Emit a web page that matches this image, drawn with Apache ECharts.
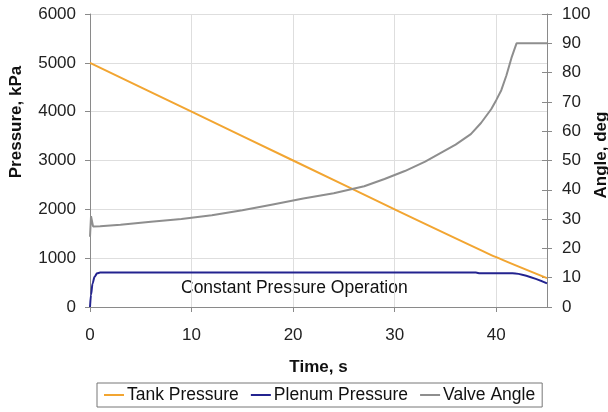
<!DOCTYPE html>
<html>
<head>
<meta charset="utf-8">
<script src="https://cdn.jsdelivr.net/npm/echarts@6/dist/echarts.min.js"></script>
<style>
  html, body { margin: 0; padding: 0; background: #fff; }
  #chart { width: 608px; height: 412px; }
</style>
</head>
<body>
<div id="chart"></div>
<script>
// Tank, plenum and valve histories over a constant-pressure run
const tankTime = [0, 10, 20, 30, 40, 45];
const tankKPa = [5000, 4000, 3000, 2000, 1020, 590];

const plenumTime = [0, 0.1, 0.25, 0.45, 0.7, 1, 38, 38.4, 41.6, 45];
const plenumKPa = [0, 250, 480, 620, 690, 705, 705, 690, 690, 485];

const valveTime = [0, 0.1, 0.3, 1, 3, 6, 9, 12, 15, 18, 21, 24, 27, 29, 31, 33, 34.5, 36, 37.5, 38.5, 39.5, 40, 40.5, 41, 41.5, 41.8, 42, 45];
const valveDeg = [24, 31, 27.5, 27.6, 28.1, 29.1, 30.0, 31.3, 33.0, 35.0, 37.0, 38.8, 41.2, 43.7, 46.4, 49.6, 52.5, 55.4, 59.0, 62.8, 67.5, 70.6, 74.0, 79.0, 85.0, 88.0, 90, 90];

const timeTicks = [0, 10, 20, 30, 40];
const seriesNames = ['Tank Pressure', 'Plenum Pressure', 'Valve Angle'];

const zip = (xs, ys) => xs.map((x, i) => [x, ys[i]]);

const font = 'Liberation Sans, Arial, sans-serif';
const axisColor = '#8a8a8a';
const gridColor = '#dedede';
const plain = v => String(v);

const chart = echarts.init(document.getElementById('chart'));
chart.setOption({
  animation: false,
  textStyle: { fontFamily: font },
  grid: { left: 90, right: 61, top: 14, bottom: 105 },
  legend: {
    data: seriesNames,
    left: 97,
    top: 383,
    padding: [3, 7],
    itemGap: 12,
    itemWidth: 20,
    itemHeight: 2,
    icon: 'rect',
    borderColor: '#777',
    borderWidth: 1,
    textStyle: { fontSize: 17.5, color: '#111', fontFamily: font, padding: [0, 0, 0, -2] }
  },
  xAxis: {
    type: 'value',
    min: 0,
    max: 45,
    interval: 10,
    name: 'Time, s',
    nameLocation: 'middle',
    nameGap: 52,
    nameTextStyle: { fontSize: 17, fontWeight: 'bold', color: '#111', fontFamily: font },
    axisLine: { lineStyle: { color: axisColor } },
    axisTick: { length: 5, lineStyle: { color: axisColor } },
    axisLabel: {
      fontSize: 17, color: '#222', margin: 20, showMaxLabel: false,
      formatter: v => (timeTicks.includes(v) ? String(v) : '')
    },
    splitLine: { lineStyle: { color: gridColor } }
  },
  yAxis: [
    {
      type: 'value',
      min: 0,
      max: 6000,
      interval: 1000,
      position: 'left',
      axisLine: { show: true, lineStyle: { color: axisColor } },
      axisTick: { show: true, length: 5, lineStyle: { color: axisColor } },
      axisLabel: { fontSize: 17, color: '#222', margin: 14, formatter: plain },
      splitLine: { lineStyle: { color: gridColor } }
    },
    {
      type: 'value',
      min: 0,
      max: 100,
      interval: 10,
      position: 'right',
      axisLine: { show: true, lineStyle: { color: axisColor } },
      axisTick: { show: true, length: 5, lineStyle: { color: axisColor } },
      axisLabel: { fontSize: 17, color: '#222', margin: 15, formatter: plain },
      splitLine: { show: false }
    },
    {
      // inward half of the crossing ticks on the angle axis
      type: 'value',
      min: 0,
      max: 100,
      interval: 10,
      position: 'right',
      axisLine: { show: false },
      axisTick: { show: true, inside: true, length: 5, lineStyle: { color: axisColor } },
      axisLabel: { show: false },
      splitLine: { show: false }
    }
  ],
  graphic: [
    {
      type: 'text',
      left: 181,
      top: 279,
      style: { text: 'Constant Pressure Operation', fontSize: 17.5, fill: '#111', fontFamily: font }
    },
    {
      type: 'text',
      x: 16,
      y: 122,
      rotation: Math.PI / 2,
      style: {
        text: 'Pressure, kPa', fontSize: 17, fontWeight: 'bold', fill: '#111',
        fontFamily: font, align: 'center', verticalAlign: 'middle'
      }
    },
    {
      type: 'text',
      x: 601,
      y: 155,
      rotation: Math.PI / 2,
      style: {
        text: 'Angle, deg', fontSize: 17, fontWeight: 'bold', fill: '#111',
        fontFamily: font, align: 'center', verticalAlign: 'middle'
      }
    }
  ],
  series: [
    {
      name: seriesNames[0],
      type: 'line',
      yAxisIndex: 0,
      data: zip(tankTime, tankKPa),
      showSymbol: false,
      smooth: 0.2,
      lineStyle: { color: '#F2A531', width: 2 },
      itemStyle: { color: '#F2A531' }
    },
    {
      name: seriesNames[1],
      type: 'line',
      yAxisIndex: 0,
      data: zip(plenumTime, plenumKPa),
      showSymbol: false,
      smooth: 0.3,
      smoothMonotone: 'x',
      lineStyle: { color: '#23238F', width: 2 },
      itemStyle: { color: '#23238F' }
    },
    {
      name: seriesNames[2],
      type: 'line',
      yAxisIndex: 1,
      data: zip(valveTime, valveDeg),
      showSymbol: false,
      smooth: false,
      lineStyle: { color: '#8E8E8E', width: 2 },
      itemStyle: { color: '#8E8E8E' }
    }
  ]
});
</script>
</body>
</html>
